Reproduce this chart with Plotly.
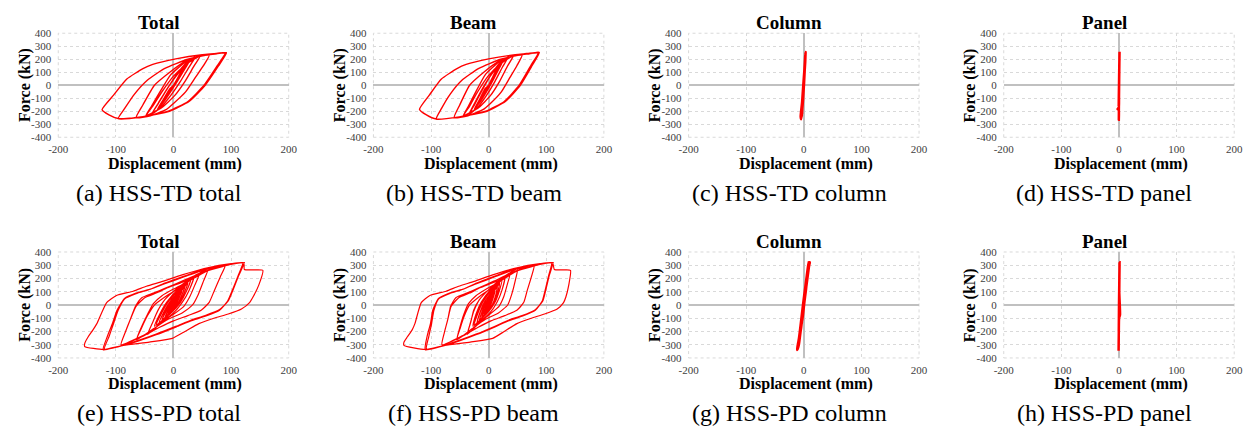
import plotly.graph_objects as go

# ---------------- data (displacement mm, force kN) ----------------
TD_TOTAL = [
    (0, 0), (6, 45), (12, 85), (7, 45), (0, 0), (-6, -45), (-12, -85), (-7, -45), (0, 0),
    (10, 75), (20, 140), (13, 90), (3, 20), (-10, -75), (-20, -140), (-13, -90), (-3, -20), (0, 0),
    (14, 105), (28, 185), (19, 120), (6, 25), (-14, -110), (-28, -185), (-19, -120), (-6, -25), (0, 0),
    (16, 125), (30, 195), (38, 218), (27, 140), (12, 30), (-5, -80), (-22, -170), (-38, -222),
    (-27, -145), (-12, -35), (5, 80), (22, 170), (38, 218),
    (27, 140), (12, 30), (-5, -80), (-22, -170), (-38, -222), (-26, -135), (-10, -20), (8, 90), (28, 185), (47, 228),
    (36, 150), (20, 30), (2, -80), (-20, -170), (-48, -235), (-36, -160), (-20, -50), (0, 70), (22, 160), (47, 228),
    (36, 150), (20, 30), (2, -80), (-20, -170), (-48, -235), (-38, -160), (-22, -40), (-5, 80), (20, 175), (45, 220), (62, 232),
    (52, 150), (38, 60), (21, -51), (0, -140), (-13, -188), (-40, -235), (-65, -250), (-53, -150), (-33, 0), (-7, 98),
    (21, 185), (45, 222), (62, 232),
    (52, 150), (38, 60), (21, -51), (0, -140), (-13, -188), (-40, -235), (-65, -250), (-53, -150), (-33, 0), (-7, 98),
    (21, 185), (50, 228), (75, 242), (92, 250),
    (78, 148), (55, 0), (27, -125), (-7, -200), (-53, -242), (-96, -257),
    (-85, -180), (-68, -70), (-45, 40), (-15, 130), (25, 200), (65, 238), (90, 250),
    (76, 150), (53, 0), (25, -125), (-9, -200), (-55, -243), (-96, -256), (-112, -228), (-124, -188),
    (-104, -76), (-81, 48), (-53, 128), (-36, 160), (4, 203), (50, 235), (92, 250),
]

TD_BEAM = [
    (0, 0), (5, 45), (10, 85), (6, 45), (0, 0), (-5, -45), (-10, -85), (-6, -45), (0, 0),
    (9, 75), (17, 140), (11, 90), (3, 20), (-9, -75), (-17, -140), (-11, -90), (-3, -20), (0, 0),
    (12, 105), (25, 185), (17, 120), (6, 25), (-12, -110), (-25, -185), (-17, -120), (-6, -25), (0, 0),
    (14, 125), (26, 195), (34, 218), (24, 140), (11, 30), (-4, -80), (-19, -170), (-34, -222),
    (-24, -145), (-11, -35), (4, 80), (19, 170), (34, 218),
    (24, 140), (11, 30), (-4, -80), (-19, -170), (-34, -222), (-24, -135), (-10, -20), (6, 90), (25, 185), (43, 228),
    (33, 150), (19, 30), (3, -80), (-17, -170), (-44, -235), (-33, -160), (-19, -50), (-1, 70), (19, 160), (43, 228),
    (33, 150), (19, 30), (3, -80), (-17, -170), (-44, -235), (-35, -160), (-21, -40), (-6, 80), (17, 175), (41, 220), (58, 232),
    (49, 150), (37, 60), (22, -51), (3, -140), (-10, -188), (-36, -235), (-60, -250), (-50, -150), (-33, 0), (-9, 98),
    (18, 185), (41, 222), (58, 232),
    (49, 150), (37, 60), (22, -51), (3, -140), (-10, -188), (-36, -235), (-60, -250), (-50, -150), (-33, 0), (-9, 98),
    (18, 185), (46, 228), (71, 242), (88, 252),
    (75, 148), (55, 0), (29, -125), (-3, -200), (-49, -242), (-91, -260),
    (-82, -180), (-67, -70), (-46, 40), (-17, 130), (21, 200), (61, 238), (86, 252),
    (73, 150), (53, 0), (27, -125), (-5, -200), (-51, -243), (-91, -260), (-108, -228), (-120, -185),
    (-103, -76), (-82, 48), (-55, 128), (-39, 160), (0, 203), (46, 235), (88, 252),
]

TD_COLUMN = [
    (0, 0), (1, 80), (1.5, 150), (1, 80), (0, 0), (-1, -80), (-2, -150), (-1, -80), (0, 0),
    (1.5, 120), (2.5, 215), (1.5, 120), (0, 10), (-1.5, -110), (-3, -220), (-2, -120), (-0.5, 0),
    (1.5, 130), (3, 240), (2, 150), (0.5, 20), (-1.5, -120), (-3.5, -240), (-2.5, -140), (-0.5, 0),
    (1.5, 140), (3, 255), (2.5, 180), (0.5, 40), (-1, -80), (-3, -200), (-4.5, -262), (-5.5, -240),
    (-3, -130), (-1, 0), (1, 120), (2.5, 230),
]

TD_PANEL = [
    (0, 0), (0.3, 80), (0.6, 160), (0.3, 80), (0, 0), (-0.3, -80), (-0.5, -160), (-0.2, -80), (0, 0),
    (0.5, 150), (0.9, 230), (1, 258), (0.7, 170), (0.3, 50), (0, -60), (-0.3, -170), (-2.5, -183),
    (-0.3, -190), (-0.3, -266), (-0.1, -150), (0.2, -20), (0.5, 100), (0.9, 250),
]

PD_TOTAL = [
    (0, 0), (3, 25), (5, 40), (2, 10), (-2, -15), (-5, -35), (-2, -8), (2, 15), (5, 40), (2, 10), (-2, -15), (-5, -35),
    (-1, 0), (5, 45), (10, 80), (6, 35), (1, -10), (-5, -40), (-10, -70), (-6, -30), (-1, 10), (5, 50), (10, 80),
    (6, 35), (1, -10), (-5, -40), (-10, -70),
    (-5, -25), (2, 25), (9, 70), (15, 110), (10, 55), (3, -5), (-6, -50), (-15, -95), (-10, -45), (-2, 15), (7, 65),
    (15, 110), (10, 55), (3, -5), (-6, -50), (-15, -95),
    (-9, -40), (0, 25), (10, 85), (20, 140), (14, 70), (6, 0), (-6, -55), (-20, -115), (-13, -50), (-3, 20), (9, 85),
    (20, 140), (14, 70), (6, 0), (-6, -55), (-20, -115),
    (-13, -45), (-2, 30), (12, 100), (25, 165), (18, 85), (9, 10), (-5, -60), (-25, -135), (-17, -60), (-6, 15),
    (10, 100), (25, 165), (18, 85), (9, 10), (-5, -60), (-25, -135),
    (-17, -55), (-6, 25), (12, 115), (30, 190), (22, 100), (12, 20), (-4, -60), (-30, -150), (-21, -65), (-10, 20),
    (10, 120), (30, 190), (22, 100), (12, 20), (-4, -60), (-30, -150),
    (-20, -55), (-8, 30), (12, 125), (35, 205), (27, 110), (16, 25), (0, -60), (-33, -160), (-24, -70), (-12, 20),
    (8, 120), (35, 210), (27, 110), (16, 25), (0, -60), (-33, -160),
    (-22, -60), (-10, 30), (8, 120), (25, 185), (45, 238), (37, 150), (28, 60), (18, -10), (0, -70), (-20, -130),
    (-45, -222), (-37, -140), (-28, -50), (-15, 40), (5, 120), (25, 185), (45, 238), (37, 150), (28, 60), (18, -10),
    (0, -70), (-20, -130), (-45, -222),
    (-36, -130), (-27, -40), (-15, 40), (5, 120), (30, 200), (60, 272), (52, 180), (43, 80), (33, 0), (15, -60),
    (-10, -110), (-35, -180), (-64, -262), (-55, -170), (-45, -80), (-33, 0), (-15, 60), (10, 130), (35, 215),
    (60, 272), (52, 180), (43, 80), (33, 0), (15, -60), (-10, -110), (-35, -180), (-64, -262),
    (-56, -170), (-45, -70), (-35, 10), (-20, 70), (0, 120), (25, 175), (55, 250), (90, 303), (81, 210), (71, 110),
    (62, 20), (48, -40), (25, -80), (0, -120), (-25, -170), (-55, -235), (-91, -300), (-84, -210), (-75, -110),
    (-65, -10), (-50, 55), (-30, 90), (-10, 130), (20, 180), (55, 255), (90, 303), (81, 210), (71, 110), (62, 20),
    (48, -40), (25, -80), (0, -120), (-25, -170), (-55, -240), (-91, -300),
    (-84, -210), (-75, -110), (-66, -10), (-55, 55), (-35, 90), (-15, 125), (15, 180), (50, 245), (85, 290),
    (122, 318), (113, 220), (103, 110), (95, 30), (80, -35), (55, -80), (30, -115), (5, -160), (-30, -220),
    (-70, -280), (-122, -338), (-115, -240), (-106, -140), (-98, -40), (-85, 50), (-65, 90), (-40, 120), (-15, 160),
    (20, 215), (60, 275), (95, 305), (120, 316), (112, 220), (102, 110), (94, 30), (80, -40), (55, -85), (30, -120),
    (5, -165), (-30, -225), (-70, -285), (-120, -335),
    (-112, -240), (-104, -140), (-96, -40), (-85, 45), (-65, 85), (-40, 120), (-15, 165), (20, 220), (60, 280),
    (100, 312), (122, 318), (123, 268), (140, 265), (155, 262), (148, 150), (138, 60), (132, 18), (118, -30),
    (95, -68), (70, -100), (44, -141), (20, -200), (-2, -252), (-42, -280), (-87, -305), (-121, -336),
    (-154, -314), (-154, -290), (-148, -240), (-140, -190), (-133, -141), (-116, 18), (-99, 72), (-70, 104),
    (-47, 141), (-19, 178), (15, 227), (61, 283), (101, 312), (124, 320),
]

PD_BEAM = [
    (0, 0), (2, 25), (4, 40), (2, 10), (-1, -15), (-4, -35), (-2, -8), (1, 15), (4, 40), (2, 10), (-1, -15), (-4, -35),
    (-1, 0), (3, 45), (7, 80), (5, 35), (1, -10), (-4, -40), (-8, -70), (-5, -30), (-1, 10), (3, 50), (7, 80),
    (5, 35), (1, -10), (-4, -40), (-8, -70),
    (-4, -25), (1, 25), (7, 70), (11, 110), (8, 55), (3, -5), (-4, -50), (-12, -95), (-8, -45), (-3, 15), (5, 65),
    (11, 110), (8, 55), (3, -5), (-4, -50), (-12, -95),
    (-8, -40), (-1, 25), (7, 85), (15, 140), (12, 70), (6, 0), (-4, -55), (-16, -115), (-11, -50), (-4, 20), (6, 85),
    (15, 140), (12, 70), (6, 0), (-4, -55), (-16, -115),
    (-11, -45), (-3, 30), (9, 100), (19, 165), (15, 85), (9, 10), (-3, -60), (-20, -135), (-15, -60), (-6, 15),
    (7, 100), (19, 165), (15, 85), (9, 10), (-3, -60), (-20, -135),
    (-15, -55), (-7, 25), (8, 115), (23, 190), (18, 100), (11, 20), (-2, -60), (-25, -150), (-19, -65), (-11, 20),
    (6, 120), (23, 190), (18, 100), (11, 20), (-2, -60), (-25, -150),
    (-18, -55), (-9, 30), (8, 125), (28, 205), (23, 110), (15, 25), (2, -60), (-27, -160), (-22, -70), (-13, 20),
    (4, 120), (28, 210), (23, 110), (15, 25), (2, -60), (-27, -160),
    (-20, -60), (-11, 30), (4, 120), (19, 185), (37, 238), (32, 150), (26, 60), (18, -10), (2, -70), (-15, -130),
    (-37, -222), (-32, -140), (-26, -50), (-16, 40), (1, 120), (19, 185), (37, 238), (32, 150), (26, 60), (18, -10),
    (2, -70), (-15, -130), (-37, -222),
    (-31, -130), (-26, -40), (-16, 40), (1, 120), (23, 200), (50, 272), (46, 180), (40, 80), (33, 0), (17, -60),
    (-6, -110), (-29, -180), (-55, -262), (-49, -170), (-42, -80), (-33, 0), (-17, 60), (5, 130), (27, 215),
    (50, 272), (46, 180), (40, 80), (33, 0), (17, -60), (-6, -110), (-29, -180), (-55, -262),
    (-50, -170), (-43, -70), (-35, 10), (-22, 70), (-4, 120), (19, 175), (46, 250), (79, 303), (74, 210), (67, 110),
    (61, 20), (49, -40), (28, -80), (4, -120), (-19, -170), (-47, -235), (-81, -300), (-77, -210), (-71, -110),
    (-65, -10), (-52, 55), (-33, 90), (-15, 130), (14, 180), (46, 255), (79, 303), (74, 210), (67, 110), (61, 20),
    (49, -40), (28, -80), (4, -120), (-19, -170), (-47, -240), (-81, -300),
    (-77, -210), (-71, -110), (-66, -10), (-57, 55), (-38, 90), (-19, 125), (9, 180), (41, 245), (75, 290),
    (111, 318), (105, 220), (99, 110), (94, 30), (81, -35), (58, -80), (34, -115), (11, -160), (-22, -220),
    (-60, -280), (-110, -338), (-107, -240), (-101, -140), (-97, -40), (-87, 50), (-68, 90), (-44, 120), (-21, 160),
    (12, 215), (50, 275), (84, 305), (109, 316), (104, 220), (98, 110), (93, 30), (81, -40), (58, -85), (34, -120),
    (11, -165), (-22, -225), (-60, -285), (-108, -335),
    (-104, -240), (-99, -140), (-95, -40), (-87, 45), (-68, 85), (-44, 120), (-21, 165), (12, 220), (50, 280),
    (89, 312), (111, 318), (114, 268), (129, 265), (142, 262), (139, 150), (134, 60), (130, 18), (119, -30),
    (97, -68), (74, -100), (49, -141), (27, -200), (7, -252), (-32, -280), (-76, -305), (-110, -336),
    (-147, -305), (-147, -280), (-141, -240), (-133, -190), (-128, -141), (-117, 18), (-102, 72), (-74, 104),
    (-52, 141), (-25, 178), (7, 227), (51, 283), (90, 312), (113, 320),
]

PD_COLUMN = [
    (0, 0), (1, 40), (2, 80), (1, 40), (0, 0), (-1, -40), (-2, -80), (-1, -40), (0, 0),
    (2, 100), (4, 150), (2.5, 90), (0, 0), (-2, -80), (-4, -140), (-2.5, -80), (0, 0),
    (3, 130), (5, 190), (3.5, 120), (0.5, 20), (-2.5, -80), (-5, -170), (-3.5, -100), (-1, 0), (2, 100),
    (5, 200), (7, 260), (5, 190), (1.5, 60), (-1.5, -50), (-4.5, -150), (-7, -230), (-5, -170), (-2, -60),
    (1, 50), (4, 160), (7, 250), (9, 300), (10, 320), (8, 290), (4.5, 170), (1, 40), (-2, -60), (-5.5, -170),
    (-8, -250), (-10, -300), (-11.5, -338), (-9, -300), (-6, -200), (-3, -100), (0, 10), (3, 110), (6, 210),
    (8.5, 290), (9.7, 326), (9, 305), (7, 240), (4, 140), (1, 40), (-2.5, -80), (-6, -190), (-9, -280),
    (-11, -330), (-9.5, -300), (-6.5, -200), (-3.5, -90), (-0.5, 20), (2.5, 120), (5.5, 220), (8, 300), (9.5, 330),
]

PD_PANEL = [
    (0, 0), (0.3, 100), (0.6, 200), (0.3, 100), (0, 0), (-0.2, -100), (-0.4, -200), (-0.2, -100), (0, 0),
    (0.6, 200), (1, 322), (0.8, 220), (0.5, 100), (1.8, -75), (0.2, -100), (-0.3, -200), (-0.7, -345),
    (-0.4, -250), (0, -100), (0.3, 0), (0.6, 150), (1, 300),
]

PANEL_TITLES = ["Total", "Beam", "Column", "Panel", "Total", "Beam", "Column", "Panel"]
CAPTIONS = ["(a) HSS-TD total", "(b) HSS-TD beam", "(c) HSS-TD column", "(d) HSS-TD panel",
            "(e) HSS-PD total", "(f) HSS-PD beam", "(g) HSS-PD column", "(h) HSS-PD panel"]
SERIES = [TD_TOTAL, TD_BEAM, TD_COLUMN, TD_PANEL, PD_TOTAL, PD_BEAM, PD_COLUMN, PD_PANEL]
LINE_W = [1.4, 1.4, 2.5, 2.5, 1.2, 1.2, 3, 2.5]
X_TICKS = [-200, -100, 0, 100, 200]
Y_TICKS = [-400, -300, -200, -100, 0, 100, 200, 300, 400]
X_TITLE = "Displacement (mm)"
Y_TITLE = "Force (kN)"

# ---------------- layout (pixels) ----------------
W, H = 1257, 433
COLS = [(49, 283), (369, 603), (689, 923), (1009, 1243)]
ROWS = [(28, 135), (253, 362)]
FONT = "Liberation Serif, Times New Roman, serif"

fig = go.Figure()
annotations = []


def px(x):
    return x / W


def py(y):
    return 1 - y / H


for i, data in enumerate(SERIES):
    r, c = divmod(i, 4)
    k = i + 1
    x0, x1 = COLS[c]
    y0, y1 = ROWS[r]
    xs = [p[0] for p in data]
    ys = [p[1] for p in data]
    xa = "x" if k == 1 else f"x{k}"
    ya = "y" if k == 1 else f"y{k}"
    fig.add_trace(go.Scatter(x=xs, y=ys, mode="lines", xaxis=xa, yaxis=ya,
                             line=dict(color="#ff0000", width=LINE_W[i], shape="spline", smoothing=0.5),
                             showlegend=False, hoverinfo="skip"))
    common = dict(showgrid=True, gridcolor="#d9d9d9", griddash="dot", gridwidth=1,
                  zeroline=True, zerolinecolor="#c0c0c0", zerolinewidth=2,
                  showline=False, ticks="", fixedrange=True,
                  tickfont=dict(family=FONT, size=11, color="#404040"))
    fig.update_layout(**{
        ("xaxis" if k == 1 else f"xaxis{k}"): dict(
            domain=[px(x0), px(x1)], anchor=ya, range=[-200, 200], ticklabelstandoff=4,
            tickvals=X_TICKS, ticktext=[str(v) for v in X_TICKS], **common),
        ("yaxis" if k == 1 else f"yaxis{k}"): dict(
            domain=[py(y1), py(y0)], anchor=xa, range=[-400, 400], ticklabelstandoff=6,
            tickvals=Y_TICKS, ticktext=[str(v) for v in Y_TICKS], **common),
    })
    fig.add_shape(type="rect", xref="paper", yref="paper",
                  x0=px(x0), x1=px(x1), y0=py(y1), y1=py(y0),
                  line=dict(color="#d9d9d9", width=1, dash="dot"), layer="below")
    cx = (x0 + x1) / 2
    cy = (y0 + y1) / 2
    annotations.append(dict(text=f"<b>{PANEL_TITLES[i]}</b>", x=px(cx - 15), y=py(y0 - 11),
                            font=dict(family=FONT, size=19, color="black")))
    annotations.append(dict(text=f"<b>{X_TITLE}</b>", x=px(cx + 2), y=py(y1 + 27),
                            font=dict(family=FONT, size=16, color="black")))
    annotations.append(dict(text=f"<b>{Y_TITLE}</b>", x=px(x0 - 34), y=py(cy), textangle=-90,
                            font=dict(family=FONT, size=16, color="black")))
    annotations.append(dict(text=CAPTIONS[i], x=px(cx - 15), y=py(y1 + 57),
                            font=dict(family=FONT, size=24, color="black")))

for a in annotations:
    a.update(xref="paper", yref="paper", xanchor="center", yanchor="middle", showarrow=False)

fig.update_layout(width=W, height=H, margin=dict(l=0, r=0, t=0, b=0),
                  paper_bgcolor="white", plot_bgcolor="white",
                  annotations=annotations)

fig.write_html("out.html")
